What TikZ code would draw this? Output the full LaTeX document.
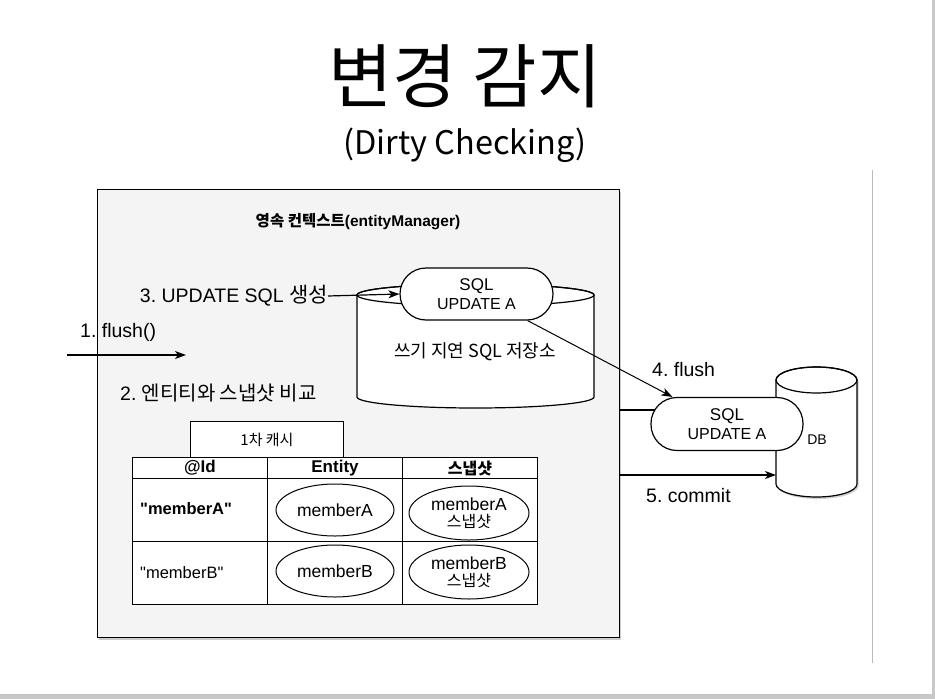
\documentclass[tikz,border=0pt]{standalone}
\usepackage{fontspec}
\setmainfont{Liberation Sans}[Ligatures=TeXOff]
\newfontfamily\krfont{Noto Sans CJK KR}
\usetikzlibrary{arrows.meta,shadows,shapes.geometric}
\definecolor{boxfill}{HTML}{F4F4F4}
\definecolor{edgegray}{HTML}{C8C8C8}
\definecolor{rulegray}{HTML}{BBBBBB}
\newcommand{\fsz}[1]{\fontsize{#1}{#1}\selectfont}
\frenchspacing
\begin{document}
\begin{tikzpicture}[x=1pt,y=-1pt,
  lw/.style={line width=1.2pt},
  arr/.style={lw,-{Stealth[length=11pt,width=8pt,inset=3pt]}},
  lbl/.style={font=\fsz{19.5},inner sep=0pt},
  pill/.style={draw,lw,fill=white,rounded corners=26pt,align=center,inner sep=0pt},
  cell/.style={draw,line width=1pt,fill=white,anchor=north west,inner sep=0pt},
  oval/.style={ellipse,draw,line width=1pt,fill=white,align=center,inner sep=0pt,font=\fsz{17.5}},
  shd/.style={drop shadow={shadow xshift=1.5pt,shadow yshift=-2.5pt,opacity=0.4}}
]
\useasboundingbox (0,0) rectangle (935,699);
\fill[white] (0,0) rectangle (935,699);
\fill[edgegray] (0,694) rectangle (935,699);
\fill[edgegray] (932,0) rectangle (935,699);
\draw[rulegray,line width=1pt] (872,170) -- (872,663);

% titles
\node[font=\krfont\fsz{70}] (title) at (465,76) {변경 감지};
\node[font=\krfont\fsz{32.5}] (sub) at (465,145) {(Dirty Checking)};

% persistence context box
\node[draw,lw,fill=boxfill,anchor=north west,minimum width=522pt,minimum height=448pt,inner sep=0pt,shd] (mainbox) at (97,189) {};
\node[font=\bfseries\fsz{15.5}] (pctitle) at (358,222) {{\krfont 영속 컨텍스트}(entityManager)};

% write-behind store cylinder
\draw[lw,fill=white] (357,295) -- (357,397) arc[start angle=180,end angle=0,x radius=118.5,y radius=11]
  -- (594,295) arc[start angle=0,end angle=-180,x radius=118.5,y radius=11] -- cycle;
\draw[lw] (475.5,295) ellipse [x radius=118.5,y radius=11];
\node[lbl,font=\krfont\fsz{18}] (store) at (475,352) {쓰기 지연 SQL 저장소};

\node[pill,minimum width=153pt,minimum height=52pt] (p1) at (476.5,294)
  {{\fsz{17}SQL}\\[4pt]{\fsz{16}UPDATE A}};

% step labels
\node[lbl,anchor=east] (t3) at (328,296) {3. UPDATE SQL {\krfont\fsz{21}생성}};
\draw[arr] (t3.east) -- (p1.west);

\node[lbl,anchor=west] (t1) at (80,332) {1. flush()};
\coordinate (f1) at (67,355);
\coordinate (f2) at (186,355);
\draw[arr] (f1) -- (f2);

\node[lbl,anchor=west] (t2) at (120,393) {2. {\krfont\fsz{20}엔티티와 스냅샷 비교}};

% first-level cache
\node[cell,minimum width=153pt,minimum height=36pt,font=\krfont\fsz{15}] (cache) at (190,421) {1차 캐시};
\node[cell,minimum width=135pt,minimum height=21pt,font=\bfseries\fsz{17}] (h1) at (132,457) {@Id};
\node[cell,minimum width=135pt,minimum height=21pt,font=\bfseries\fsz{17}] (h2) at (267,457) {Entity};
\node[cell,minimum width=135pt,minimum height=21pt,font=\krfont\bfseries\fsz{16}] (h3) at (402,457) {스냅샷};
\node[cell,minimum width=135pt,minimum height=63pt] (a1) at (132,478) {};
\node[cell,minimum width=135pt,minimum height=63pt] (a2) at (267,478) {};
\node[cell,minimum width=135pt,minimum height=63pt] (a3) at (402,478) {};
\node[cell,minimum width=135pt,minimum height=63pt] (b1) at (132,541) {};
\node[cell,minimum width=135pt,minimum height=63pt] (b2) at (267,541) {};
\node[cell,minimum width=135pt,minimum height=63pt] (b3) at (402,541) {};
\node[font=\bfseries\fsz{16.5},anchor=west,inner sep=0pt] (ida) at (140,509) {"memberA"};
\node[font=\fsz{16.5},anchor=west,inner sep=0pt] (idb) at (140,573) {"memberB"};
\node[oval,minimum width=118pt,minimum height=52pt] (ea) at (335,510) {memberA};
\node[oval,minimum width=118pt,minimum height=52pt] (eb) at (335,571) {memberB};
\node[oval,minimum width=120pt,minimum height=54pt] (sa) at (469,513) {memberA\\[-1pt]{\krfont\fsz{16}스냅샷}};
\node[oval,minimum width=120pt,minimum height=54pt] (sb) at (469,572) {memberB\\[-1pt]{\krfont\fsz{16}스냅샷}};

% DB cylinder
\draw[lw,fill=white,drop shadow={shadow xshift=1.5pt,shadow yshift=-2pt,opacity=0.35}]
  (776,380) -- (776,484) arc[start angle=180,end angle=0,x radius=40.5,y radius=13]
  -- (857,380) arc[start angle=0,end angle=-180,x radius=40.5,y radius=13] -- cycle;
\draw[lw] (816.5,380) ellipse [x radius=40.5,y radius=13];
\node[font=\fsz{14}] (db) at (817,440) {DB};
\coordinate (dbw) at (776,475);

% connector from context to flushed SQL (behind pill)
\coordinate (m410) at (619,410);
\coordinate (p2c) at (700,410);
\draw[lw] (m410) -- (p2c);

\node[pill,minimum width=152pt,minimum height=53pt] (p2) at (727,424)
  {{\fsz{17}SQL}\\[4pt]{\fsz{16}UPDATE A}};

\draw[arr,line width=1pt] ([xshift=-26pt]p1.south east) -- ([xshift=22pt]p2.north west);
\node[lbl,anchor=west] (t4) at (652,370) {4. flush};

\coordinate (m475) at (619,475);
\draw[arr] (m475) -- (dbw);
\node[lbl,anchor=west] (t5) at (646,496) {5. commit};
\end{tikzpicture}
\end{document}
